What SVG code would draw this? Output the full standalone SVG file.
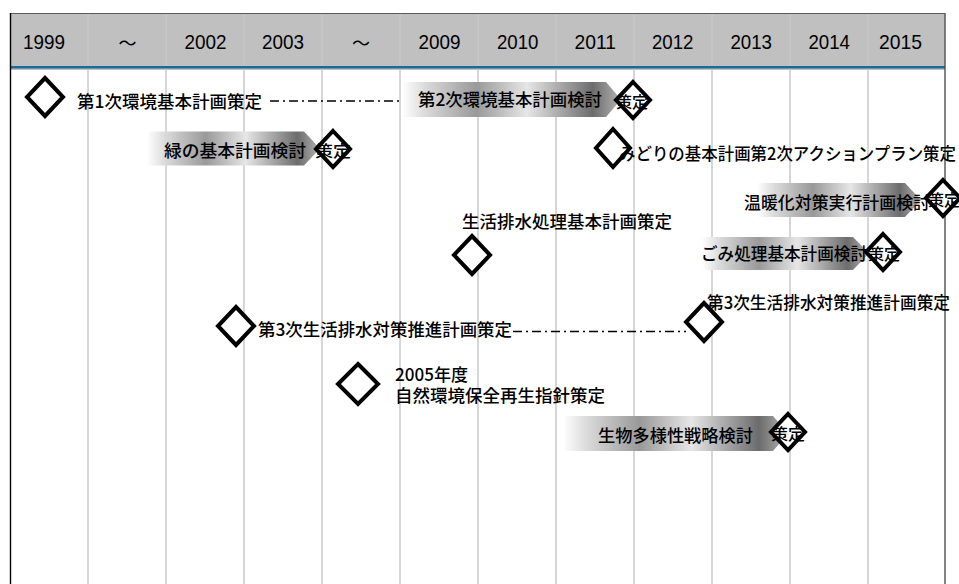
<svg xmlns="http://www.w3.org/2000/svg" width="959" height="584" viewBox="0 0 959 584">
  <style>
    .yr { font-family: "Liberation Sans", "Noto Sans", sans-serif; font-size: 21px; fill: #000; }
    .tl { font-family: "Noto Sans CJK JP", sans-serif; font-size: 18px; fill: #000; dominant-baseline: central; }
    .lbl { font-family: "Noto Sans CJK JP", sans-serif; font-size: 17.5px; font-weight: 500; fill: #000; dominant-baseline: central; }
    .sd { font-family: "Noto Sans CJK JP", sans-serif; font-size: 16px; font-weight: 500; fill: #000; dominant-baseline: central; text-anchor: middle; }
    .grid { stroke: #c8c8c8; stroke-width: 1.5; }
    .hdiv { stroke: #cbcbcb; stroke-width: 1; }
    .dia { fill: #fff; stroke: #000; stroke-width: 4; stroke-linejoin: miter; }
    .bar { fill: url(#barGrad); }
    .dd { fill: none; stroke: #000; stroke-width: 1.3; stroke-dasharray: 9 4 2 4; }
  </style>
  <defs>
    <linearGradient id="barGrad" x1="0" y1="0" x2="1" y2="0">
      <stop offset="0" stop-color="#ffffff"/>
      <stop offset="0.1" stop-color="#dcdcdc"/>
      <stop offset="0.34" stop-color="#999999"/>
      <stop offset="0.57" stop-color="#e6e6e6"/>
      <stop offset="0.87" stop-color="#6c6c6c"/>
      <stop offset="1" stop-color="#b4b4b4"/>
    </linearGradient>
  </defs>

  <!-- header band -->
  <g id="header">
    <rect x="10" y="13" width="935" height="57" fill="#c0c0c0"/>
    <line x1="10" y1="13.5" x2="945" y2="13.5" stroke="#5a5a5a" stroke-width="1"/>
    <g class="hdiv">
      <line x1="88" y1="14" x2="88" y2="66"/><line x1="166" y1="14" x2="166" y2="66"/>
      <line x1="244" y1="14" x2="244" y2="66"/><line x1="322" y1="14" x2="322" y2="66"/>
      <line x1="400" y1="14" x2="400" y2="66"/><line x1="478" y1="14" x2="478" y2="66"/>
      <line x1="556" y1="14" x2="556" y2="66"/><line x1="634" y1="14" x2="634" y2="66"/>
      <line x1="712" y1="14" x2="712" y2="66"/><line x1="790" y1="14" x2="790" y2="66"/>
      <line x1="868" y1="14" x2="868" y2="66"/>
    </g>
    <line x1="10" y1="67.2" x2="945" y2="67.2" stroke="#1a6b9c" stroke-width="2.6"/>
    <text class="yr" x="23" y="49.3" textLength="42" lengthAdjust="spacingAndGlyphs">1999</text>
    <text class="tl" x="127.5" y="42" text-anchor="middle">～</text>
    <text class="yr" x="184.5" y="49.3" textLength="42" lengthAdjust="spacingAndGlyphs">2002</text>
    <text class="yr" x="262" y="49.3" textLength="42" lengthAdjust="spacingAndGlyphs">2003</text>
    <text class="tl" x="361" y="42" text-anchor="middle">～</text>
    <text class="yr" x="418.5" y="49.3" textLength="42" lengthAdjust="spacingAndGlyphs">2009</text>
    <text class="yr" x="497" y="49.3" textLength="41.5" lengthAdjust="spacingAndGlyphs">2010</text>
    <text class="yr" x="574.5" y="49.3" textLength="41.5" lengthAdjust="spacingAndGlyphs">2011</text>
    <text class="yr" x="652" y="49.3" textLength="41.5" lengthAdjust="spacingAndGlyphs">2012</text>
    <text class="yr" x="730.5" y="49.3" textLength="41.5" lengthAdjust="spacingAndGlyphs">2013</text>
    <text class="yr" x="808.5" y="49.3" textLength="41.5" lengthAdjust="spacingAndGlyphs">2014</text>
    <text class="yr" x="879" y="49.3" textLength="43" lengthAdjust="spacingAndGlyphs">2015</text>
  </g>

  <!-- body grid -->
  <g id="grid">
    <g class="grid">
      <line x1="88" y1="69" x2="88" y2="584"/><line x1="166" y1="69" x2="166" y2="584"/>
      <line x1="244" y1="69" x2="244" y2="584"/><line x1="322" y1="69" x2="322" y2="584"/>
      <line x1="400" y1="69" x2="400" y2="584"/><line x1="478" y1="69" x2="478" y2="584"/>
      <line x1="556" y1="69" x2="556" y2="584"/><line x1="634" y1="69" x2="634" y2="584"/>
      <line x1="712" y1="69" x2="712" y2="584"/><line x1="790" y1="69" x2="790" y2="584"/>
      <line x1="868" y1="69" x2="868" y2="584"/>
    </g>
    <line x1="10.5" y1="13" x2="10.5" y2="584" stroke="#000" stroke-width="1.4"/>
    <line x1="945" y1="13" x2="945" y2="584" stroke="#505050" stroke-width="1.4"/>
  </g>

  <!-- dash-dot spans between milestones -->
  <g id="connectors">
    <line class="dd" x1="270" y1="101" x2="400" y2="101"/>
    <line class="dd" x1="513" y1="331.5" x2="686" y2="331.5"/>
  </g>

  <!-- review bars (gradient arrows) -->
  <g id="bar-env2">
    <path class="bar" d="M402,82 H606 L621,99.5 L606,117 H402 Z"/>
    <text class="lbl" x="418" y="98" textLength="184" lengthAdjust="spacingAndGlyphs">第2次環境基本計画検討</text>
  </g>
  <g id="bar-green">
    <path class="bar" d="M147,131.5 H304 L320,148.5 L304,165.5 H147 Z"/>
    <text class="lbl" x="164" y="149.5" textLength="142" lengthAdjust="spacingAndGlyphs">緑の基本計画検討</text>
  </g>
  <g id="bar-warming">
    <path class="bar" d="M757,183 H905 L921,200 L905,217 H757 Z"/>
    <text class="lbl" x="744" y="201" textLength="186" lengthAdjust="spacingAndGlyphs">温暖化対策実行計画検討</text>
  </g>
  <g id="bar-waste">
    <path class="bar" d="M702,237 H853 L869,253.5 L853,270 H702 Z"/>
    <text class="lbl" x="701" y="252.5" textLength="166" lengthAdjust="spacingAndGlyphs">ごみ処理基本計画検討</text>
  </g>
  <g id="bar-bio">
    <path class="bar" d="M563,416 H773 L788,433.5 L773,451 H563 Z"/>
    <text class="lbl" x="598" y="434" textLength="155" lengthAdjust="spacingAndGlyphs">生物多様性戦略検討</text>
  </g>

  <!-- milestones -->
  <g id="ms-env1">
    <path class="dia" d="M45,78 L63,97 L45,116 L27,97 Z"/>
    <text class="lbl" x="77" y="100" textLength="185" lengthAdjust="spacingAndGlyphs">第1次環境基本計画策定</text>
  </g>
  <g id="ms-env2">
    <path class="dia" d="M633,82 L650,100 L633,118 L616,100 Z"/>
    <text class="sd" x="632" y="101" textLength="32" lengthAdjust="spacingAndGlyphs">策定</text>
  </g>
  <g id="ms-green">
    <path class="dia" d="M333,131 L350,149 L333,167 L316,149 Z"/>
    <text class="sd" x="333" y="150" textLength="36" lengthAdjust="spacingAndGlyphs">策定</text>
  </g>
  <g id="ms-midori">
    <path class="dia" d="M613,129 L630,148 L613,167 L596,148 Z"/>
    <text class="lbl" x="619" y="152" textLength="337" lengthAdjust="spacingAndGlyphs">みどりの基本計画第2次アクションプラン策定</text>
  </g>
  <g id="ms-warming">
    <path class="dia" d="M943,180 L960,198 L943,216 L926,198 Z"/>
    <text class="sd" x="944" y="199" textLength="32" lengthAdjust="spacingAndGlyphs">策定</text>
  </g>
  <g id="ms-sewage">
    <path class="dia" d="M472,236 L490,255 L472,274 L454,255 Z"/>
    <text class="lbl" x="462" y="220" textLength="210" lengthAdjust="spacingAndGlyphs">生活排水処理基本計画策定</text>
  </g>
  <g id="ms-waste">
    <path class="dia" d="M883,234 L900,252 L883,270 L866,252 Z"/>
    <text class="sd" x="884" y="253" textLength="32" lengthAdjust="spacingAndGlyphs">策定</text>
  </g>
  <g id="ms-drain3-start">
    <path class="dia" d="M236,307 L254,326 L236,345 L218,326 Z"/>
    <text class="lbl" x="258" y="328" textLength="254" lengthAdjust="spacingAndGlyphs">第3次生活排水対策推進計画策定</text>
  </g>
  <g id="ms-drain3-end">
    <path class="dia" d="M704,303 L722,322 L704,341 L686,322 Z"/>
    <text class="lbl" x="707" y="301.5" textLength="243" lengthAdjust="spacingAndGlyphs">第3次生活排水対策推進計画策定</text>
  </g>
  <g id="ms-nature">
    <path class="dia" d="M358,364 L378,384 L358,404 L338,384 Z"/>
    <text class="lbl" x="395" y="373" textLength="73" lengthAdjust="spacingAndGlyphs">2005年度</text>
    <text class="lbl" x="395" y="394" textLength="210" lengthAdjust="spacingAndGlyphs">自然環境保全再生指針策定</text>
  </g>
  <g id="ms-bio">
    <path class="dia" d="M788,414 L805,432 L788,450 L771,432 Z"/>
    <text class="sd" x="788" y="433" textLength="34" lengthAdjust="spacingAndGlyphs">策定</text>
  </g>
</svg>
